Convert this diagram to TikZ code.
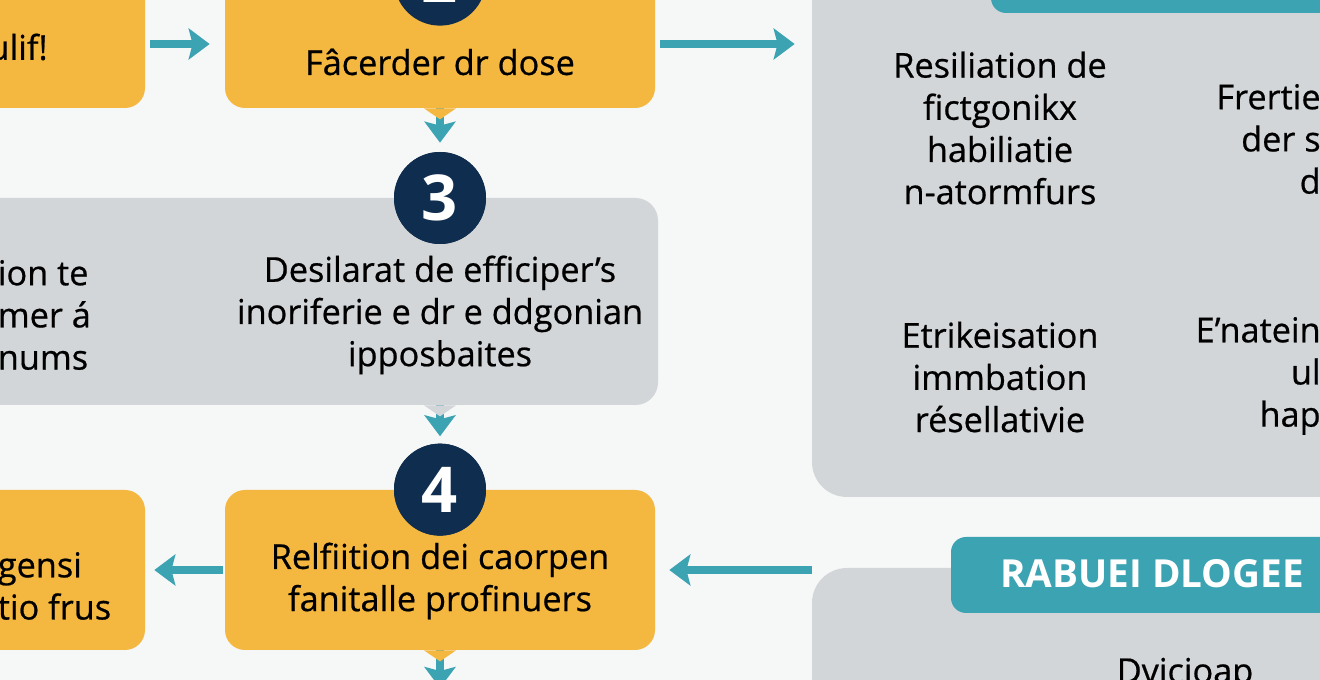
\documentclass[tikz,border=0pt]{standalone}
\usepackage{fontspec}
\setmainfont{Open Sans}[UprightFeatures={FakeBold=0.6}]
\usetikzlibrary{positioning,arrows.meta}
\definecolor{stepyellow}{HTML}{F4B740}
\definecolor{panelgray}{HTML}{D3D6D8}
\definecolor{flowteal}{HTML}{3CA3B3}
\definecolor{numnavy}{HTML}{0F2D4E}
\definecolor{pagebg}{HTML}{F6F7F7}

\begin{document}
\begin{tikzpicture}[font=\fontsize{19.5}{24}\selectfont,
  yellowbox/.style={fill=stepyellow, rounded corners=0.4cm, minimum width=8.6cm, inner sep=0pt},
  graybox/.style={fill=panelgray, rounded corners=0.45cm, inner sep=0pt},
  tealbar/.style={fill=flowteal, rounded corners=0.3cm, inner sep=0pt},
  stepnum/.style={circle, fill=numnavy, text=white, minimum size=1.84cm, inner sep=0pt, font=\fontsize{36}{36}\selectfont\bfseries},
  steptext/.style={align=center, text=black, inner sep=0pt},
  flow/.style={draw=flowteal, line width=0.16cm, -{Stealth[length=0.42cm,width=0.62cm,inset=0.08cm]}},
]
\useasboundingbox (0,0) rectangle (26.4,13.6);
\fill[pagebg] (0,0) rectangle (26.4,13.6);
\clip (0,0) rectangle (26.4,13.6);

% boxes
\node[yellowbox, minimum width=8cm, minimum height=2.56cm] (start) at (-1.1,12.72) {};
\node[yellowbox, minimum height=2.56cm] (facer) at (8.8,12.72) {};
\node[graybox, minimum width=15.16cm, minimum height=4.14cm] (desil) at (5.58,7.57) {};
\node[yellowbox, minimum height=3.2cm] (relf) at (8.8,2.2) {};
\node[yellowbox, minimum width=8cm, minimum height=3.2cm] (gensi) at (-1.1,2.2) {};

\node[graybox, rounded corners=0.7cm, minimum width=13.76cm, minimum height=10.94cm] (panel) at (23.12,9.13) {};
\node[tealbar, minimum width=10.18cm, minimum height=1.26cm] (panelbar) at (24.91,13.97) {};
\node[graybox, rounded corners=0.7cm, minimum width=13.76cm, minimum height=3.84cm] (lower) at (23.12,0.32) {};
\node[tealbar, minimum width=10.98cm, minimum height=1.52cm] (lowerbar) at (24.51,2.1) {};

\coordinate (next) at (8.8,-0.16);

% connectors
\path (start) edge[flow, shorten <=0.1cm, shorten >=0.3cm] (facer)
      (facer.east) edge[flow, shorten <=0.1cm, shorten >=0.34cm] (facer.east -| panel.west)
      (lower.west |- relf.east) edge[flow, shorten >=0.28cm] (relf.east)
      (relf) edge[flow, shorten <=0.04cm, shorten >=0.18cm] (gensi);

\node[stepnum] (n3) at (8.8,9.64) {3};
\node[stepnum] (n4) at (relf.north) {4};

\path (facer.south) edge[flow, shorten >=0.18cm] (n3.north)
      (n4 |- desil.south) edge[flow, shorten >=0.14cm] (n4.north)
      (relf.south) edge[flow] (next);

% tails
\fill[stepyellow] ([xshift=-0.32cm]facer.south) -- ([xshift=0.32cm]facer.south) -- ([yshift=-0.22cm]facer.south) -- cycle;
\fill[panelgray] ([xshift=-0.32cm]n4 |- desil.south) -- ([xshift=0.32cm]n4 |- desil.south) -- ([yshift=-0.22cm]n4 |- desil.south) -- cycle;
\fill[stepyellow] ([xshift=-0.32cm]relf.south) -- ([xshift=0.32cm]relf.south) -- ([yshift=-0.22cm]relf.south) -- cycle;

\node[stepnum] (n2) at (facer.north) {2};
\node[stepnum] at (n3) {3};
\node[stepnum] at (n4) {4};

% texts
\node[steptext, anchor=east] (starttext) at (0.96,12.66) {ulif!};
\node[steptext] (factext) at (8.8,12.36) {Fâcerder dr dose};
\node[steptext, align=left, anchor=west] (desilleft) at (-0.05,7.3) {ion te\\mer á\\nums};
\node[steptext] (desiltext) at (8.8,7.3) {Desilarat de efficiper’s\\inoriferie e dr e ddgonian\\ipposbaites};
\node[steptext] (relftext) at (8.8,1.98) {Relfiition dei caorpen\\fanitalle profinuers};
\node[steptext, align=left, anchor=west] (gensitext) at (-0.05,1.88) {gensi\\tio frus};

\node[steptext] (resil) at (20.0,11.04) {Resiliation de\\fictgonikx\\habiliatie\\n-atormfurs};
\node[steptext] (etrik) at (20.0,6.06) {Etrikeisation\\immbation\\résellativie};
\node[steptext, align=right, anchor=east] (frert) at (26.42,10.82) {Frertie\\der s\\d};
\node[steptext, align=right, anchor=east] (enat) at (26.42,6.08) {E’natein\\ul\\hap};

\node[anchor=west, text=white, inner sep=0pt, font=\fontsize{22}{24}\selectfont\bfseries] (rabuei) at (20.0,2.12) {RABUEI DLOGEE};
\node[steptext, anchor=base] (dvic) at (23.7,-0.06) {Dvicioap};
\end{tikzpicture}
\end{document}
